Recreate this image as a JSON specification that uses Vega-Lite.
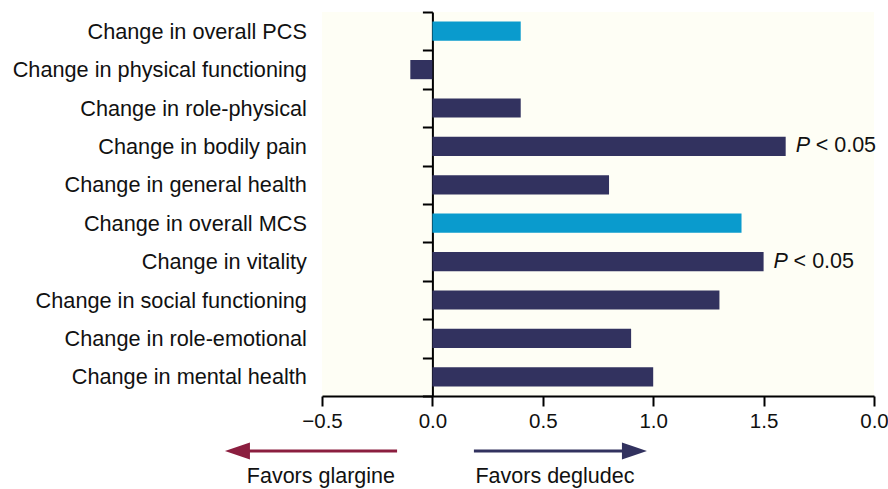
{
  "$schema": "https://vega.github.io/schema/vega-lite/v6.json",
  "padding": {"left": 12, "top": 2, "right": 0, "bottom": 0},
  "autosize": {"type": "pad"},
  "background": "white",
  "config": {"font": "Liberation Sans", "view": {"stroke": null}},
  "spacing": 10,
  "vconcat": [
    {
      "width": 552,
      "height": 384,
      "view": {"fill": "#FEFEF5", "stroke": null},
      "data": {
        "values": [
          {"measure": "Change in overall PCS", "value": 0.4, "type": "Summary", "sig": false},
          {"measure": "Change in physical functioning", "value": -0.1, "type": "Subscale", "sig": false},
          {"measure": "Change in role-physical", "value": 0.4, "type": "Subscale", "sig": false},
          {"measure": "Change in bodily pain", "value": 1.6, "type": "Subscale", "sig": true},
          {"measure": "Change in general health", "value": 0.8, "type": "Subscale", "sig": false},
          {"measure": "Change in overall MCS", "value": 1.4, "type": "Summary", "sig": false},
          {"measure": "Change in vitality", "value": 1.5, "type": "Subscale", "sig": true},
          {"measure": "Change in social functioning", "value": 1.3, "type": "Subscale", "sig": false},
          {"measure": "Change in role-emotional", "value": 0.9, "type": "Subscale", "sig": false},
          {"measure": "Change in mental health", "value": 1.0, "type": "Subscale", "sig": false}
        ]
      },
      "encoding": {
        "y": {
          "field": "measure",
          "type": "nominal",
          "sort": null,
          "scale": {"paddingInner": 0, "paddingOuter": 0},
          "axis": {
            "title": null,
            "offset": -110.4,
            "tickBand": "extent",
            "tickSize": 10,
            "tickWidth": 2,
            "tickColor": "black",
            "domainColor": "black",
            "domainWidth": 2,
            "labelPadding": 116,
            "labelFontSize": 21.7,
            "labelColor": "#111",
            "labelLimit": 400
          }
        },
        "x": {
          "field": "value",
          "type": "quantitative",
          "scale": {"domain": [-0.5, 2], "nice": false},
          "axis": {
            "title": null,
            "values": [-0.5, 0, 0.5, 1, 1.5, 2],
            "format": ".1f",
            "labelExpr": "datum.value == 2 ? '0.0' : datum.label",
            "tickSize": 10,
            "tickWidth": 2,
            "tickColor": "black",
            "domainColor": "black",
            "domainWidth": 2,
            "labelFontSize": 20.5,
            "labelColor": "#111",
            "labelPadding": 5,
            "grid": false,
            "labelFlush": false,
            "labelOverlap": false
          }
        }
      },
      "layer": [
        {
          "mark": {"type": "bar", "height": {"band": 0.5}},
          "encoding": {
            "color": {
              "field": "type",
              "type": "nominal",
              "scale": {"domain": ["Summary", "Subscale"], "range": ["#0A9BCD", "#32325F"]},
              "legend": null
            }
          }
        },
        {
          "transform": [{"filter": "datum.sig"}],
          "mark": {"type": "text", "align": "left", "baseline": "middle", "dx": 10, "fontSize": 21.5, "fontStyle": "italic", "color": "#111"},
          "encoding": {"text": {"value": "P"}}
        },
        {
          "transform": [{"filter": "datum.sig"}],
          "mark": {"type": "text", "align": "left", "baseline": "middle", "dx": 30, "fontSize": 21.5, "color": "#111"},
          "encoding": {"text": {"value": "< 0.05"}}
        }
      ]
    },
    {
      "width": 552,
      "height": 32,
      "data": {
        "values": [
          {"side": "glargine", "text": "Favors glargine", "tail": -0.16, "head": -0.883, "textx": -0.505},
          {"side": "degludec", "text": "Favors degludec", "tail": 0.188, "head": 0.915, "textx": 0.555}
        ]
      },
      "encoding": {
        "color": {
          "field": "side",
          "type": "nominal",
          "scale": {"domain": ["glargine", "degludec"], "range": ["#8B1E3F", "#32325F"]},
          "legend": null
        }
      },
      "layer": [
        {
          "mark": {"type": "rule", "strokeWidth": 3},
          "encoding": {
            "x": {"field": "tail", "type": "quantitative", "scale": {"domain": [-0.5, 2], "nice": false}, "axis": null},
            "x2": {"field": "head"},
            "y": {"datum": 1, "type": "quantitative", "scale": {"domain": [0, 1], "nice": false}, "axis": null}
          }
        },
        {
          "mark": {"type": "point", "filled": true, "opacity": 1, "size": 625, "strokeWidth": 0},
          "encoding": {
            "x": {"field": "head", "type": "quantitative"},
            "y": {"datum": 1, "type": "quantitative"},
            "shape": {
              "field": "side",
              "type": "nominal",
              "scale": {"domain": ["glargine", "degludec"], "range": ["M1,-0.68L-1,0L1,0.68Z", "M-1,-0.68L1,0L-1,0.68Z"]},
              "legend": null
            }
          }
        },
        {
          "mark": {"type": "text", "fontSize": 21.5, "baseline": "alphabetic", "align": "center"},
          "encoding": {
            "x": {"field": "textx", "type": "quantitative"},
            "y": {"datum": 0, "type": "quantitative"},
            "text": {"field": "text"},
            "color": {"value": "#111"}
          }
        }
      ],
      "resolve": {"scale": {"color": "independent"}}
    }
  ],
  "resolve": {"scale": {"x": "independent", "color": "independent"}}
}
